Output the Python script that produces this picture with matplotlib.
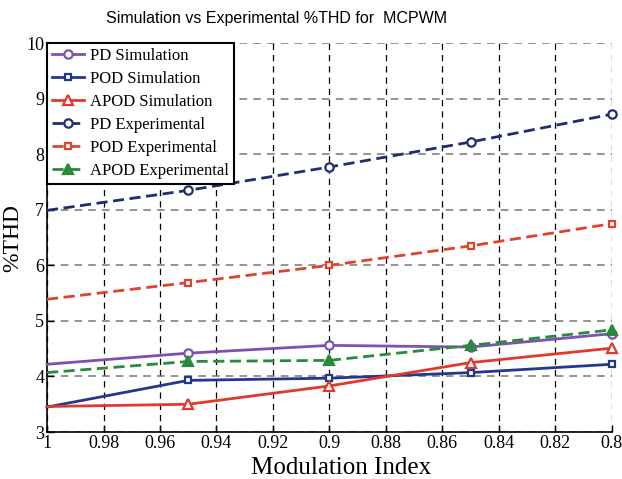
import matplotlib.pyplot as plt
import numpy as np

mod_index = [1.0, 0.95, 0.9, 0.85, 0.8]

pd_sim = [4.22, 4.42, 4.56, 4.53, 4.77]
pod_sim = [3.45, 3.93, 3.97, 4.07, 4.22]
apod_sim = [3.46, 3.50, 3.83, 4.25, 4.51]
pd_exp = [6.99, 7.35, 7.77, 8.22, 8.72]
pod_exp = [5.39, 5.69, 6.00, 6.35, 6.75]
apod_exp = [4.07, 4.27, 4.29, 4.56, 4.84]

xticks = [1, 0.98, 0.96, 0.94, 0.92, 0.9, 0.88, 0.86, 0.84, 0.82, 0.8]
xticklabels = ["1", "0.98", "0.96", "0.94", "0.92", "0.9", "0.88", "0.86", "0.84", "0.82", "0.8"]
yticks = [3, 4, 5, 6, 7, 8, 9, 10]

serif = "Liberation Serif"

fig = plt.figure(figsize=(6.22, 4.79), dpi=100)
ax = fig.add_axes([0.0756, 0.098, 0.908, 0.812])

lw = 2.0
ms = 6
dash = (0, (4, 2))
common = dict(lw=lw, mew=1.6, markevery=[1, 2, 3, 4], clip_on=False, zorder=3)
ax.plot(mod_index, pd_sim, color="#7b52b0", marker="o", ms=ms, mfc="white", label="PD Simulation", **common)
ax.plot(mod_index, pod_sim, color="#24378f", marker="s", ms=ms - 1, mfc="white", label="POD Simulation", **common)
ax.plot(mod_index, apod_sim, color="#e03a2b", marker="^", ms=ms + 1, mfc="white", label="APOD Simulation", **common)
ax.plot(mod_index, pd_exp, color="#1f2e6e", ls=dash, marker="o", ms=ms, mfc="white", label="PD Experimental", **common)
ax.plot(mod_index, pod_exp, color="#df4330", ls=dash, marker="s", ms=ms - 1, mfc="white", label="POD Experimental", **common)
ax.plot(mod_index, apod_exp, color="#2a8a3c", ls=dash, marker="^", ms=ms + 1, mfc="#2a8a3c", label="APOD Experimental", **common)

ax.set_xlim(1, 0.8)
ax.set_ylim(3, 10)
ax.set_xticks(xticks)
ax.set_xticklabels(xticklabels, fontfamily=serif, fontsize=13)
ax.set_yticks(yticks)
ax.set_yticklabels([str(v) for v in yticks], fontfamily=serif, fontsize=13)
ax.tick_params(direction="in", length=5, width=1, pad=2)

# horizontal grid grey, vertical grid black
ax.yaxis.grid(True, color="#777777", ls=(0, (5, 4)), lw=1.1)
ax.xaxis.grid(True, color="black", ls=(0, (5, 4)), lw=0.9)
ax.spines["top"].set_visible(False)
ax.spines["right"].set_visible(False)
ax.spines["left"].set_linewidth(1.2)
ax.spines["bottom"].set_linewidth(1.2)

ax.set_xlabel("Modulation Index", fontfamily=serif, fontsize=18, labelpad=0)
ax.xaxis.set_label_coords(0.52, -0.063, transform=ax.transAxes)
ax.xaxis.label.set_va("top")
ax.set_ylabel("%THD", fontfamily=serif, fontsize=17, labelpad=2)
fig.text(0.444, 0.962, "Simulation vs Experimental %THD for  MCPWM", fontfamily="Liberation Sans",
         fontsize=11.5, ha="center", va="center")

leg = ax.legend(loc="upper left", prop={"family": serif, "size": 12}, handlelength=1.9,
                handletextpad=0.4, labelspacing=0.42, borderpad=0.3, borderaxespad=0,
                fancybox=False, framealpha=1, edgecolor="black")
leg.get_frame().set_linewidth(1.5)

fig.savefig("out.png", dpi=100)
plt.close()
